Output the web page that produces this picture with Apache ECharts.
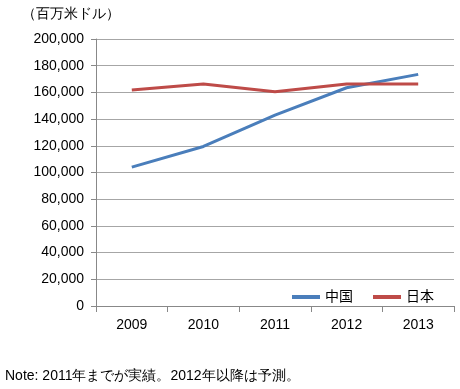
<!DOCTYPE html>
<html><head><meta charset="utf-8">
<script src="https://cdn.jsdelivr.net/npm/echarts@6/dist/echarts.min.js"></script>
<style>html,body{margin:0;padding:0;background:#fff}#c{width:460px;height:389px}</style>
</head><body><div id="c"></div>
<script>
const categories = ['2009','2010','2011','2012','2013'];
const china = [104000, 119500, 143000, 163500, 173500];
const japan = [161800, 166300, 160500, 166300, 166300];
const seriesNames = ['中国','日本'];
const unitLabel = '（百万米ドル）';
const noteText = 'Note: 2011年までが実績。2012年以降は予測。';
const FONT = '"Liberation Sans", Arial, "Noto Sans CJK JP", sans-serif';
const chart = echarts.init(document.getElementById('c'), null, {renderer:'canvas'});
chart.setOption({
  animation:false,
  backgroundColor:'#fff',
  textStyle:{fontFamily:FONT},
  grid:{left:96,right:6,top:39,bottom:83,containLabel:false},
  legend:{
    data:seriesNames, right:21, top:285, itemWidth:28, itemHeight:4, itemGap:20,
    icon:'rect',
    textStyle:{fontSize:14,color:'#000',fontFamily:FONT}
  },
  graphic:[
    {type:'text',left:22,top:7,style:{text:unitLabel,fontSize:14,fill:'#000',font:'14px '+FONT}},
    {type:'text',left:5,top:369,style:{text:noteText,fontSize:14,fill:'#000',font:'14.5px '+FONT}}
  ],
  xAxis:{
    type:'category', data:categories, boundaryGap:true,
    axisLine:{lineStyle:{color:'#888',width:1}},
    axisTick:{show:true,length:6,lineStyle:{color:'#888'}},
    axisLabel:{fontSize:14,color:'#000',margin:12,fontFamily:FONT},
    splitLine:{show:false}
  },
  yAxis:{
    type:'value', min:0, max:200000, interval:20000,
    axisLine:{show:true,lineStyle:{color:'#888',width:1}},
    axisTick:{show:true,length:5,lineStyle:{color:'#888'}},
    axisLabel:{fontSize:14,color:'#000',margin:12,fontFamily:FONT,
      formatter:v=>v.toLocaleString('en-US')},
    splitLine:{show:true,lineStyle:{color:'#a6a6a6',width:1}}
  },
  series:[
    {name:seriesNames[0],type:'line',data:china,symbol:'none',
      lineStyle:{color:'#4a7ebb',width:3},itemStyle:{color:'#4a7ebb'}},
    {name:seriesNames[1],type:'line',data:japan,symbol:'none',
      lineStyle:{color:'#be4b48',width:3},itemStyle:{color:'#be4b48'}}
  ]
});
</script></body></html>
